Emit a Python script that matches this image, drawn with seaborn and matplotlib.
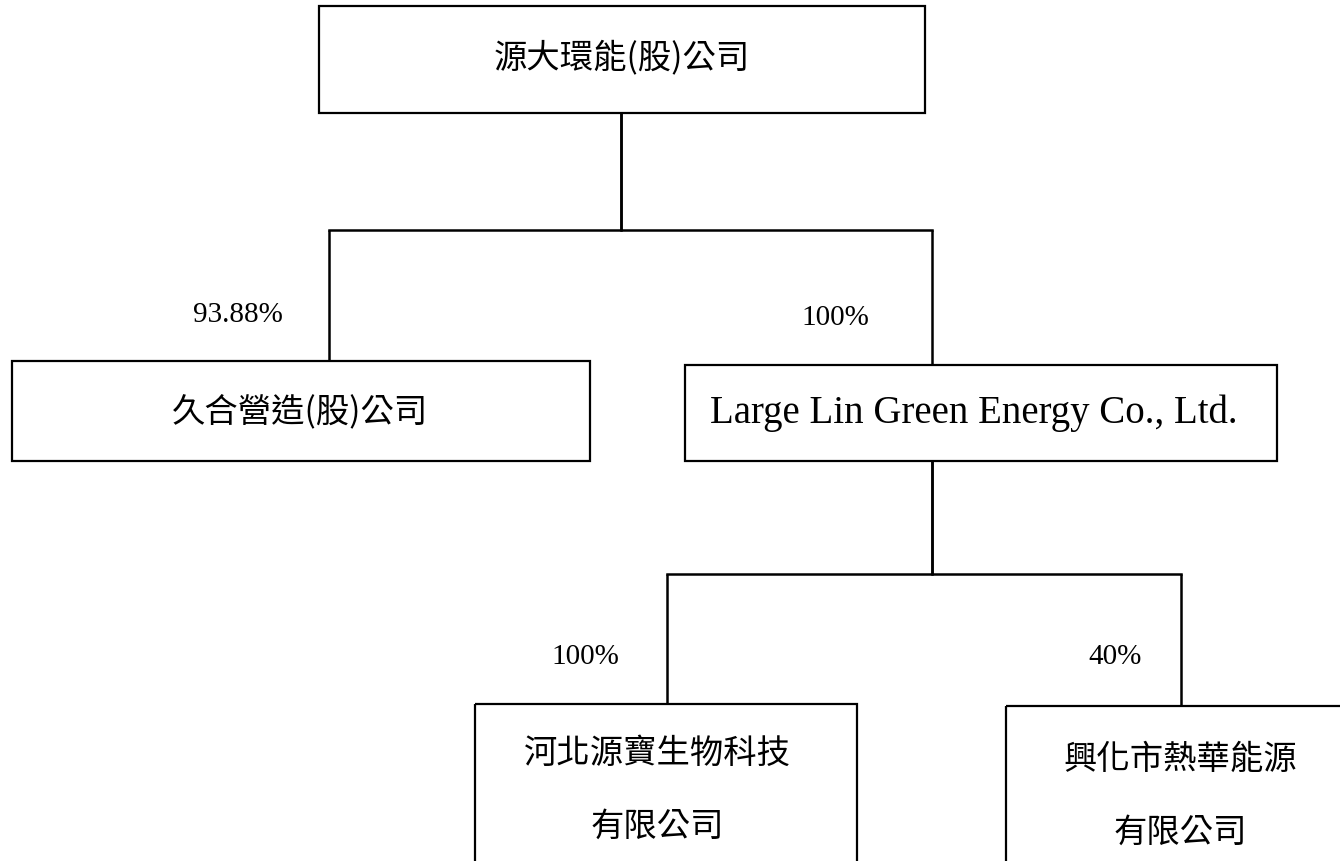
import matplotlib
matplotlib.use("Agg")
import matplotlib.pyplot as plt
from matplotlib.patches import Rectangle
import seaborn as sns

# ---- data ----
companies = ["源大環能(股)公司", "久合營造(股)公司", "Large Lin Green Energy Co., Ltd.",
             "河北源寶生物科技\n有限公司", "興化市熱華能源\n有限公司"]
parents = [None, 0, 0, 2, 2]
ownership = [None, "93.88%", "100%", "100%", "40%"]

# ---- layout (pixel coordinates, y downward) ----
boxes = [(319, 7, 925, 114), (12, 362, 590, 462), (685, 366, 1277, 462),
         (475, 705, 857, 900), (1006, 707, 1380, 900)]
out_x = [621, None, 932, None, None]          # where the line leaves a parent
bus_y = [231, None, 575, None, None]          # horizontal bus under a parent
drop_x = [None, 329, 932, 667, 1181]          # where the line enters a child
text_pos = [(622, 58), (300, 412), (974, 413), (657, 790), (1180, 796)]
pct_pos = [None, (238, 315), (835, 318), (585, 657), (1115, 657)]

sns.set_theme(style="white")
plt.rcParams['font.family'] = ['Noto Sans CJK TC', 'DejaVu Sans']

fig = plt.figure(figsize=(13.4, 8.62), dpi=100)
ax = fig.add_axes([0, 0, 1, 1])
ax.set_xlim(0, 1340)
ax.set_ylim(862, 0)
ax.axis("off")

cjk = ['Noto Sans CJK TC', 'DejaVu Sans']
serif = ['Liberation Serif', 'DejaVu Serif']

for i, name in enumerate(companies):
    x0, y0, x1, y1 = boxes[i]
    ax.add_patch(Rectangle((x0, y0), x1 - x0, y1 - y0, fill=False,
                           edgecolor="black", linewidth=1.6, clip_on=True))
    is_latin = all(ord(c) < 128 for c in name)
    tx, ty = text_pos[i]
    ax.text(tx, ty, name, ha="center", va="center",
            family=serif if is_latin else cjk,
            fontsize=28 if is_latin else 24, color="black",
            linespacing=2.4)

# connectors
for i, p in enumerate(parents):
    if p is None:
        continue
    px = out_x[p]
    by = bus_y[p]
    pbottom = boxes[p][3]
    ax.plot([px, px], [pbottom, by], color="black", lw=1.8, solid_capstyle="butt")
    cx = drop_x[i]
    ax.plot([px, cx], [by, by], color="black", lw=1.8, solid_capstyle="projecting")
    ax.plot([cx, cx], [by, boxes[i][1]], color="black", lw=1.8, solid_capstyle="butt")
    lx, ly = pct_pos[i]
    ax.text(lx, ly, ownership[i], ha="center", va="center", family=serif,
            fontsize=21, color="black")

fig.savefig("out.png", dpi=100)
